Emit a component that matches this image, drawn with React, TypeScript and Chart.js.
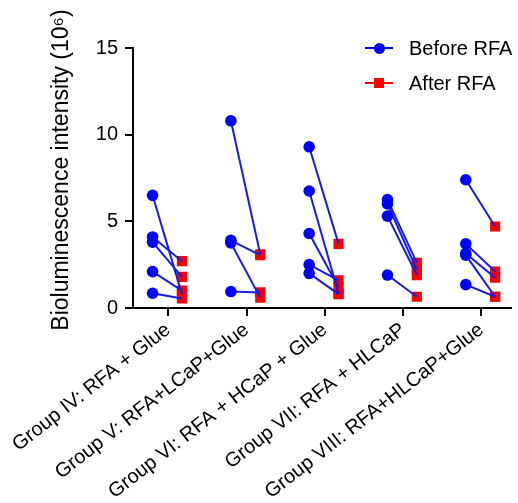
import React, { useEffect, useRef } from "react";
import { Chart, registerables } from "chart.js";

Chart.register(...registerables);

const groupLabels = [
  "Group IV: RFA + Glue",
  "Group V: RFA+LCaP+Glue",
  "Group VI: RFA + HCaP + Glue",
  "Group VII: RFA + HLCaP",
  "Group VIII: RFA+HLCaP+Glue",
];

const beforeIV = [6.5, 4.1, 3.8, 2.1, 0.85];
const afterIV = [0.8, 2.7, 1.8, 1.0, 0.55];
const beforeV = [10.8, 3.9, 3.75, 0.95];
const afterV = [3.1, 3.05, 0.6, 0.9];
const beforeVI = [9.3, 6.75, 4.3, 2.5, 2.0];
const afterVI = [3.7, 0.85, 1.2, 1.6, 0.8];
const beforeVII = [6.25, 6.0, 5.3, 1.9];
const afterVII = [2.6, 2.2, 1.9, 0.65];
const beforeVIII = [7.4, 3.7, 3.15, 3.05, 1.35];
const afterVIII = [4.7, 2.1, 1.75, 0.65, 0.65];

const beforeByGroup = [beforeIV, beforeV, beforeVI, beforeVII, beforeVIII];
const afterByGroup = [afterIV, afterV, afterVI, afterVII, afterVIII];

const yMin = 0;
const yMax = 15;
const yStep = 5;
const yTitle = "Bioluminescence intensity (10\u2076)";
const legendLabels = ["Before RFA", "After RFA"];

const BEFORE_OFFSET = -0.2;
const AFTER_OFFSET = 0.175;
const BLUE = "#0000ff";
const LINE_BLUE = "#1a1ae0";
const RED = "#ff0000";
const FONT = '"Liberation Sans", Arial, Helvetica, sans-serif';

const yTitlePlugin = {
  id: "yTitleCustom",
  afterDraw(chart: any) {
    const { ctx, chartArea } = chart;
    ctx.save();
    ctx.translate(chartArea.left - 65, (chartArea.top + chartArea.bottom) / 2 - 8);
    ctx.rotate(-Math.PI / 2);
    ctx.font = `23px ${FONT}`;
    ctx.fillStyle = "#000";
    ctx.textAlign = "center";
    ctx.textBaseline = "alphabetic";
    ctx.fillText(yTitle, 0, 0);
    ctx.restore();
  },
};

export default function App() {
  const ref = useRef<HTMLCanvasElement>(null);

  useEffect(() => {
    if (!ref.current) return;
    const beforePts: any[] = [];
    const afterPts: any[] = [];
    const lineSets: any[] = [];
    beforeByGroup.forEach((bs, gi) => {
      const as = afterByGroup[gi];
      bs.forEach((b, k) => {
        const p0 = { x: gi + 1 + BEFORE_OFFSET, y: b };
        const p1 = { x: gi + 1 + AFTER_OFFSET, y: as[k] };
        beforePts.push(p0);
        afterPts.push(p1);
        lineSets.push({
          data: [p0, p1],
          showLine: true,
          borderColor: LINE_BLUE,
          borderWidth: 2,
          pointRadius: 0,
          order: 2,
        });
      });
    });

    const chart = new Chart(ref.current, {
      type: "scatter",
      data: {
        datasets: [
          {
            label: legendLabels[1],
            data: afterPts,
            pointStyle: "rect",
            pointRadius: 7.2,
            backgroundColor: RED,
            borderColor: RED,
            borderWidth: 0,
            order: 3,
          },
          ...lineSets,
          {
            label: legendLabels[0],
            data: beforePts,
            pointStyle: "circle",
            pointRadius: 5.8,
            backgroundColor: BLUE,
            borderColor: BLUE,
            borderWidth: 0,
            order: 1,
          },
        ],
      },
      options: {
        animation: false,
        responsive: true,
        maintainAspectRatio: false,
        events: [],
        layout: { padding: { top: 48, left: 0, right: 0, bottom: 0 } },
        plugins: { legend: { display: false }, tooltip: { enabled: false } },
        scales: {
          x: {
            type: "linear",
            min: 0.55,
            max: 5.375,
            afterBuildTicks: (s: any) => {
              s.ticks = groupLabels.map((_, i) => ({ value: i + 1 }));
            },
            ticks: {
              autoSkip: false,
              maxRotation: 38,
              minRotation: 38,
              padding: 2,
              color: "#000",
              font: { family: FONT, size: 20 },
              callback: (v: any) => groupLabels[Math.round(Number(v)) - 1] ?? "",
            },
            grid: {
              drawOnChartArea: false,
              drawTicks: true,
              tickLength: 8,
              color: "#000",
              lineWidth: 2,
            },
            border: { color: "#000", width: 2 },
            afterFit: (s: any) => {
              s.height = 195;
              s.paddingLeft = 0;
              s.paddingRight = 0;
            },
          },
          y: {
            min: yMin,
            max: yMax,
            ticks: {
              stepSize: yStep,
              padding: 7,
              color: "#000",
              font: { family: FONT, size: 20 },
            },
            grid: {
              drawOnChartArea: false,
              drawTicks: true,
              tickLength: 8,
              color: "#000",
              lineWidth: 2,
            },
            border: { color: "#000", width: 2 },
            afterFit: (s: any) => {
              s.width = 133;
            },
          },
        },
      },
      plugins: [yTitlePlugin],
    } as any);
    return () => chart.destroy();
  }, []);

  const legendRow = (top: number, label: string, color: string, square: boolean) => (
    <div style={{ position: "absolute", left: 365, top: top - 14, height: 28, width: 153 }}>
      <div style={{ position: "absolute", left: 0, top: 13, width: 28, height: 2, background: color }} />
      <div
        style={{
          position: "absolute",
          left: square ? 9 : 8.5,
          top: square ? 9 : 8.5,
          width: square ? 10 : 11,
          height: square ? 10 : 11,
          borderRadius: square ? 0 : "50%",
          background: color,
        }}
      />
      <div
        style={{
          position: "absolute",
          left: 44,
          top: 0,
          height: 28,
          lineHeight: "28px",
          fontFamily: FONT,
          fontSize: 20,
          color: "#000",
          whiteSpace: "nowrap",
        }}
      >
        {label}
      </div>
    </div>
  );

  return (
    <div style={{ position: "absolute", left: 0, top: 0, width: 518, height: 503, background: "#fff" }}>
      <canvas ref={ref} />
      {legendRow(48, legendLabels[0], BLUE, false)}
      {legendRow(83, legendLabels[1], RED, true)}
    </div>
  );
}
